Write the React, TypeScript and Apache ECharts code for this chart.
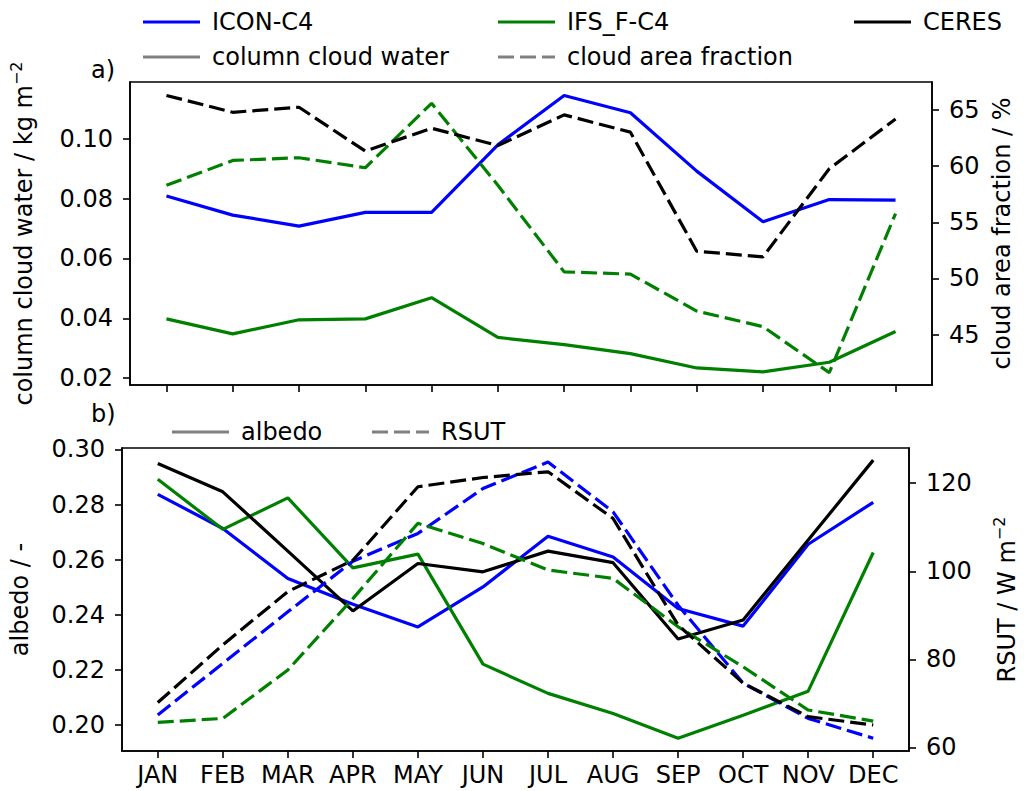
import React, { useEffect, useRef } from "react";
import * as echarts from "echarts";

const months = ["JAN", "FEB", "MAR", "APR", "MAY", "JUN", "JUL", "AUG", "SEP", "OCT", "NOV", "DEC"];

// panel a) column cloud water (kg m-2)
const iconCloudWater = [0.0809, 0.0745, 0.0708, 0.0754, 0.0754, 0.0980, 0.1145, 0.1087, 0.0892, 0.0723, 0.0797, 0.0795];
const ifsCloudWater = [0.0398, 0.0348, 0.0395, 0.0398, 0.0469, 0.0336, 0.0312, 0.0282, 0.0234, 0.0221, 0.0253, 0.0356];
// panel a) cloud area fraction (%)
const ceresCloudFraction = [66.3, 64.8, 65.25, 61.34, 63.38, 61.84, 64.57, 63.03, 52.42, 51.92, 59.77, 64.2];
const ifsCloudFraction = [58.29, 60.51, 60.75, 59.86, 65.6, 58.3, 50.58, 50.38, 47.09, 45.7, 41.6, 55.77];

// panel b) albedo (-)
const ceresAlbedo = [0.2949, 0.2846, 0.2631, 0.2414, 0.2586, 0.2556, 0.2631, 0.2589, 0.2312, 0.2381, 0.2671, 0.2961];
const iconAlbedo = [0.2837, 0.2713, 0.2532, 0.2438, 0.2356, 0.2501, 0.2685, 0.261, 0.2423, 0.2359, 0.2656, 0.2808];
const ifsAlbedo = [0.2892, 0.271, 0.2824, 0.257, 0.262, 0.2221, 0.2115, 0.2042, 0.1952, 0.2036, 0.2123, 0.2626];
// panel b) RSUT (W m-2)
const ceresRsut = [70.2, 83.3, 95.4, 102.5, 119.2, 121.3, 122.6, 112.0, 87.8, 74.6, 67.0, 65.1];
const iconRsut = [67.4, 79.1, 90.8, 102.3, 108.6, 118.8, 124.8, 113.5, 92.3, 74.6, 66.6, 62.1];
const ifsRsut = [65.7, 66.6, 77.6, 93.8, 110.9, 106.3, 100.3, 98.4, 87.4, 78.3, 68.5, 66.0];

const cloudWaterTicks = [0.02, 0.04, 0.06, 0.08, 0.1];
const cloudFractionTicks = [45, 50, 55, 60, 65];
const albedoTicks = [0.2, 0.22, 0.24, 0.26, 0.28, 0.3];
const rsutTicks = [60, 80, 100, 120];
const monthTicks = [0, 1, 2, 3, 4, 5, 6, 7, 8, 9, 10, 11];

const FONT = "DejaVu Sans";
const FS = 24;
const BLUE = "#0000ff";
const GREEN = "#008000";
const BLACK = "#000000";
const GREY = "#808080";
const DASH = [16, 6];
const LW = 3.2;

const pairs = (arr: number[]) => arr.map((v, i) => [i, v]);

function xAxisCfg(gridIndex: number, showLabels: boolean) {
  return {
    type: "value",
    gridIndex,
    min: -0.55,
    max: 11.55,
    axisLine: { show: true, lineStyle: { color: BLACK, width: 1.6 } },
    axisTick: { show: true, length: 7, lineStyle: { color: BLACK, width: 1.6 }, customValues: monthTicks },
    axisLabel: {
      show: showLabels,
      customValues: monthTicks,
      formatter: (v: number) => months[Math.round(v)],
      color: BLACK,
      fontFamily: FONT,
      fontSize: FS,
      margin: 12,
    },
    splitLine: { show: false },
  };
}

function yAxisCfg(
  gridIndex: number,
  position: string,
  min: number,
  max: number,
  ticks: number[],
  fmt: (v: number) => string,
  name: string,
  nameGap: number
) {
  return {
    type: "value",
    gridIndex,
    position,
    min,
    max,
    name,
    nameLocation: "middle",
    nameGap,
    nameRotate: 90,
    nameTextStyle: {
      color: BLACK,
      fontFamily: FONT,
      fontSize: FS,
      rich: {
        sup: { fontSize: 16, fontFamily: FONT, color: BLACK, verticalAlign: "top", lineHeight: 32 },
      },
    },
    axisLine: { show: true, onZero: false, lineStyle: { color: BLACK, width: 1.6 } },
    axisTick: { show: true, length: 7, lineStyle: { color: BLACK, width: 1.6 }, customValues: ticks },
    axisLabel: {
      customValues: ticks,
      formatter: fmt,
      color: BLACK,
      fontFamily: FONT,
      fontSize: FS,
      margin: 17,
    },
    splitLine: { show: false },
  };
}

function line(name: string, data: number[], color: string, dashed: boolean, xAxisIndex: number, yAxisIndex: number) {
  return {
    type: "line",
    name,
    data: pairs(data),
    xAxisIndex,
    yAxisIndex,
    symbol: "none",
    lineStyle: { color, width: LW, type: dashed ? DASH : "solid", cap: "butt" },
    itemStyle: { color },
    silent: true,
  };
}

function legendItem(x: number, y: number, color: string, dashed: boolean, label: string) {
  return [
    {
      type: "line",
      shape: { x1: x, y1: y, x2: x + 57, y2: y },
      style: { stroke: color, lineWidth: LW, lineDash: dashed ? DASH : null },
    },
    {
      type: "text",
      x: x + 69,
      y,
      style: { text: label, fill: BLACK, font: `${FS}px "${FONT}"`, textVerticalAlign: "middle", textAlign: "left" },
    },
  ];
}

export default function App() {
  const ref = useRef<HTMLDivElement>(null);
  useEffect(() => {
    document.body.style.margin = "0";
    const chart = echarts.init(ref.current!, null, { renderer: "svg" });
    const option = {
      animation: false,
      backgroundColor: "#ffffff",
      grid: [
        { left: 122, right: 95, top: 82, height: 303, show: true, borderColor: BLACK, borderWidth: 1.6, containLabel: false },
        { left: 122, right: 95, top: 448, height: 303, show: true, borderColor: BLACK, borderWidth: 1.6, containLabel: false },
      ],
      xAxis: [xAxisCfg(0, false), xAxisCfg(1, true)],
      yAxis: [
        yAxisCfg(0, "left", 0.0177, 0.119, cloudWaterTicks, (v: number) => v.toFixed(2), "column cloud water / kg m{sup|−2}", 90),
        yAxisCfg(0, "right", 40.5, 67.5, cloudFractionTicks, (v: number) => String(v), "cloud area fraction / %", 56),
        yAxisCfg(1, "left", 0.1906, 0.3005, albedoTicks, (v: number) => v.toFixed(2), "albedo / -", 90),
        yAxisCfg(1, "right", 59.2, 128.0, rsutTicks, (v: number) => String(v), "RSUT / W m{sup|−2}", 82),
      ],
      series: [
        line("ICON-C4 cloud water", iconCloudWater, BLUE, false, 0, 0),
        line("IFS_F-C4 cloud water", ifsCloudWater, GREEN, false, 0, 0),
        line("IFS_F-C4 cloud fraction", ifsCloudFraction, GREEN, true, 0, 1),
        line("CERES cloud fraction", ceresCloudFraction, BLACK, true, 0, 1),
        line("ICON-C4 albedo", iconAlbedo, BLUE, false, 1, 2),
        line("IFS_F-C4 albedo", ifsAlbedo, GREEN, false, 1, 2),
        line("CERES albedo", ceresAlbedo, BLACK, false, 1, 2),
        line("ICON-C4 RSUT", iconRsut, BLUE, true, 1, 3),
        line("IFS_F-C4 RSUT", ifsRsut, GREEN, true, 1, 3),
        line("CERES RSUT", ceresRsut, BLACK, true, 1, 3),
      ],
      graphic: [
        ...legendItem(143, 22, BLUE, false, "ICON-C4"),
        ...legendItem(498, 22, GREEN, false, "IFS_F-C4"),
        ...legendItem(854, 22, BLACK, false, "CERES"),
        ...legendItem(143, 57, GREY, false, "column cloud water"),
        ...legendItem(498, 57, GREY, true, "cloud area fraction"),
        ...legendItem(172, 432, GREY, false, "albedo"),
        ...legendItem(372, 432, GREY, true, "RSUT"),
        {
          type: "text",
          x: 91,
          y: 70,
          style: { text: "a)", fill: BLACK, font: `${FS}px "${FONT}"`, textVerticalAlign: "middle" },
        },
        {
          type: "text",
          x: 91,
          y: 414,
          style: { text: "b)", fill: BLACK, font: `${FS}px "${FONT}"`, textVerticalAlign: "middle" },
        },
      ],
    };
    chart.setOption(option as any);
    return () => chart.dispose();
  }, []);
  return <div ref={ref} style={{ width: 1027, height: 791 }} />;
}
